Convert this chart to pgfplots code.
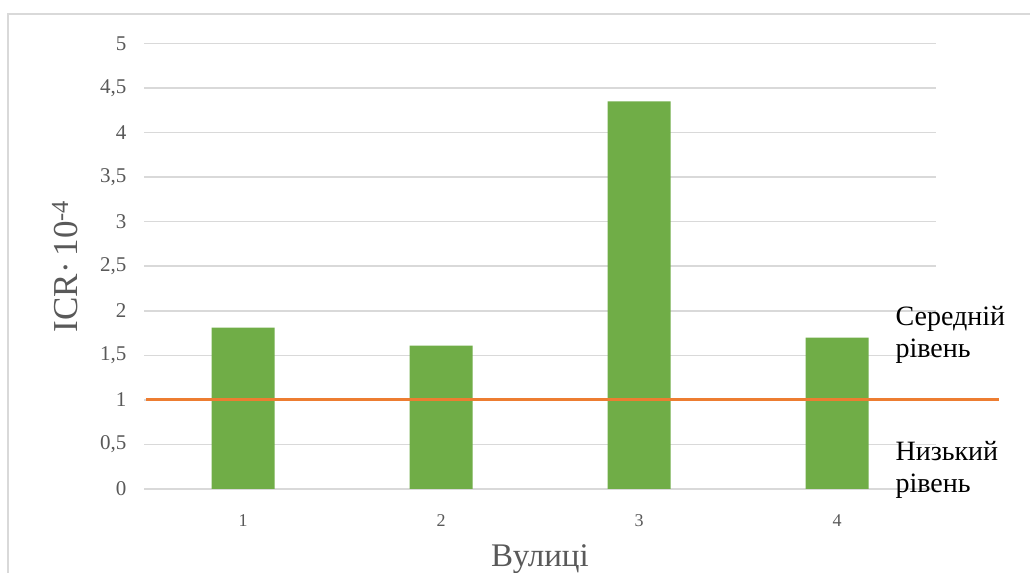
\documentclass[border=0pt]{standalone}
\usepackage{pgfplots}
\pgfplotsset{compat=1.18}
\usepackage{fontspec}
\setmainfont{Liberation Serif}

\definecolor{barGreen}{HTML}{70AD47}
\definecolor{levelOrange}{HTML}{ED7D31}
\definecolor{gridGray}{HTML}{D9D9D9}
\definecolor{textGray}{HTML}{595959}

\begin{document}
\begin{tikzpicture}[x=1bp,y=1bp]
\path[use as bounding box] (0,0) rectangle (1030,573);
\fill[white] (0,0) rectangle (1030,573);
% chart area frame (open at right and bottom)
\draw[gridGray, line width=1.5bp] (8,-5) -- (8,559) -- (1040,559);

\begin{axis}[
  at={(144bp,84bp)}, anchor=south west,
  scale only axis, width=792bp, height=445.5bp,
  xmin=0.5, xmax=4.5, ymin=0, ymax=5,
  xtick={1,2,3,4},
  ytick={0,0.5,1,1.5,2,2.5,3,3.5,4,4.5,5},
  /pgf/number format/use comma,
  /pgf/number format/assume math mode=true,
  axis line style={draw=none},
  major tick length=0pt,
  tick style={draw=none},
  ymajorgrids,
  grid style={gridGray, line width=1.5bp},
  yticklabel style={anchor=east, xshift=-14bp, textGray,
    font=\fontsize{21bp}{25bp}\selectfont},
  xticklabel style={anchor=base, yshift=-38bp, textGray,
    font=\fontsize{18bp}{22bp}\selectfont},
  every axis y label/.style={at={(axis description cs:0,0.5)},
    xshift=-67bp, rotate=90, anchor=base, textGray,
    font=\fontsize{35bp}{40bp}\selectfont},
  every axis x label/.style={at={(axis description cs:0.5,0)},
    anchor=base, yshift=-78bp, textGray,
    font=\fontsize{33bp}{38bp}\selectfont},
  ylabel={ICR·\,10\textsuperscript{-4}},
  xlabel={Вулиці},
  clip=false,
]
\addplot[ybar, bar width=63bp, fill=barGreen, draw=none]
  coordinates {(1,1.81) (2,1.61) (3,4.35) (4,1.70)};
\addplot[levelOrange, line width=3bp, sharp plot, mark=none]
  coordinates {(0.51,1) (4.818,1)};

\node[anchor=base west, font=\fontsize{28bp}{32bp}\selectfont]
  at (axis cs:4.278,1.84) {Середній};
\node[anchor=base west, font=\fontsize{28bp}{32bp}\selectfont]
  at (axis cs:4.278,1.48) {рівень};
\node[anchor=base west, font=\fontsize{28bp}{32bp}\selectfont]
  at (axis cs:4.278,0.325) {Низький};
\node[anchor=base west, font=\fontsize{28bp}{32bp}\selectfont]
  at (axis cs:4.278,-0.034) {рівень};
\end{axis}
\end{tikzpicture}
\end{document}
